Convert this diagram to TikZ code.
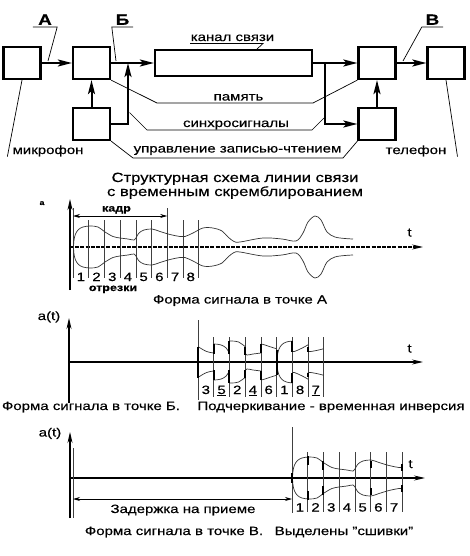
\documentclass[tikz,border=0pt]{standalone}
\usepackage{fontspec}
\setmainfont{Liberation Sans}[FakeStretch=1.25, FakeBold=0.4]
\usetikzlibrary{arrows.meta}

% envelope of the speech signal, y = -amplitude
\newcommand{\envpath}{plot[smooth, tension=0.55] coordinates {(73.5,0) (74,-7) (75.5,-13) (78.5,-17.5) (83,-20) (90,-21) (98,-20) (105,-15) (113,-10.5) (120,-9) (128,-8) (134,-7) (136.5,-10) (139,-14) (144,-17) (152,-18) (160,-15.5) (170,-12.5) (180,-10.5) (185,-10.5) (193,-14) (203,-19) (213,-19) (222,-16) (228,-10) (234,-5.5) (240,-5) (263,-9) (282,-8) (296,-6) (303,-14) (308,-25) (315,-31) (321,-27) (327,-15) (335,-10) (345,-8.5) (353,-8)}}

\tikzset{
  blk/.style={draw, line width=2.2pt, minimum width=37pt, minimum height=32pt, inner sep=0pt},
  flow/.style={-{Stealth[length=14pt, width=7pt, inset=3pt]}, line width=2pt},
  lead/.style={line width=0.7pt},
  lbl/.style={font=\fontsize{12}{14}\selectfont, inner sep=0pt, anchor=base},
  ptlbl/.style={font=\bfseries\fontsize{15}{17}\selectfont, inner xsep=0pt, inner ysep=2pt, anchor=south},
  small/.style={font=\bfseries\fontsize{10}{12}\selectfont, inner sep=0pt, anchor=base},
  num/.style={font=\fontsize{12}{13}\selectfont, inner sep=0pt, anchor=base},
  axis/.style={-{Stealth[length=11pt, width=5pt]}, line width=1.1pt},
  dim/.style={{Stealth[length=7pt, width=4pt]}-{Stealth[length=7pt, width=4pt]}, line width=0.7pt},
  cut/.style={line width=0.6pt, black!75},
  env/.style={line width=0.7pt, black!80},
  stitch/.style={line width=2pt},
}

\begin{document}
\begin{tikzpicture}[x=1pt, y=-1pt]
    \useasboundingbox (0,0) rectangle (469,556);

    % ===== Block diagram =====
    \node[blk] (mic) at (22,63) {};
    \node[blk] (coder) at (91.5,63) {};
    \node[blk] (ctrlT) at (91.5,124) {};
    \node[blk, minimum width=157pt, minimum height=26.5pt] (chan) at (233.5,63) {};
    \node[blk] (decoder) at (377,63) {};
    \node[blk] (ctrlR) at (377,124) {};
    \node[blk] (phone) at (446,63) {};

    \coordinate (jT) at (128,63);
    \coordinate (jR) at (325,63);

    \draw[flow] (mic) -- (coder);
    \draw[flow] (coder) -- (chan);
    \draw[flow] (ctrlT) -- (coder);
    \draw[flow] (ctrlT.east) -| (jT);
    \draw[flow] (chan) -- (decoder);
    \draw[flow] (jR) |- (ctrlR);
    \draw[flow] (ctrlR) -- (decoder);
    \draw[flow] (decoder) -- (phone);

    % points A, B, V
    \node[ptlbl, minimum width=24pt] (labA) at (45,27) {А};
    \node[ptlbl, minimum width=21pt] (labB) at (122.5,27) {Б};
    \node[ptlbl, minimum width=21pt] (labV) at (432.5,27) {В};
    \coordinate (pA) at (48,61);
    \coordinate (pB) at (116,61);
    \coordinate (pV) at (403,61);
    \draw[lead] (labA.south west) -- (labA.south east) -- (pA);
    \draw[lead] (labB.south east) -- (labB.south west) -- (pB);
    \draw[lead] (labV.south east) -- (labV.south west) -- (pV);

    % callouts
    \node[lbl] (labChan) at (232.5,41) {канал связи};
    \coordinate (cnL) at (190,43.5);
    \coordinate (cnR) at (263,43.5);
    \coordinate (cnT) at (256,50);
    \draw[lead] (cnL) -- (cnR) -- (cnT);

    \node[lbl] (labMem) at (238.5,100.5) {память};
    \coordinate (memL) at (157,103);
    \coordinate (memR) at (313,103);
    \draw[lead] (coder.south east) -- (memL) -- (memR) -- (decoder.south west);

    \node[lbl] (labSync) at (236,127) {синхросигналы};
    \coordinate (syT) at (129.5,112.5);
    \coordinate (synL) at (147,130);
    \coordinate (synR) at (312,130);
    \coordinate (syR) at (324,118);
    \draw[lead] (syT) -- (synL) -- (synR) -- (syR);

    \node[lbl] (labCtl) at (237.5,152.5) {управление записью-чтением};
    \coordinate (ctlL) at (133,158);
    \coordinate (ctlR) at (343,158);
    \draw[lead] (ctrlT.south east) -- (ctlL) -- (ctlR) -- (ctrlR.south west);

    \node[lbl, inner xsep=5pt] (labMic) at (48,154) {микрофон};
    \draw[lead] (mic.south) -- (labMic.south west);
    \node[lbl, inner xsep=11pt] (labTel) at (416,154) {телефон};
    \draw[lead] (phone.south) -- (labTel.south east);

    \node[lbl, font=\fontsize{13.3}{15}\selectfont] (title1) at (235,182) {Структурная схема линии связи};
    \node[lbl, font=\fontsize{13.3}{15}\selectfont] (title2) at (235,196) {с временным скремблированием};

    % ===== A: signal at point A =====
    \def\yA{247}
    \draw[axis, dash pattern=on 4pt off 1.2pt] (70,\yA) -- (423,\yA);
    \draw[axis, line width=1.6pt] (70,290) -- (70,199);
    \node[lbl, font=\bfseries\fontsize{7}{8}\selectfont] (aA) at (42,205) {а};
    \node[lbl] (tA) at (409.5,236.5) {t};

    \draw[cut] (73,208) -- (73,278);
    \draw[cut] (167.2,208) -- (167.2,278);
    \foreach \i in {1,2,3,4,5,7,8}
        \draw[cut] (73+\i*15.7,220) -- (73+\i*15.7,278);
    \draw[dim] (73,216) -- (167.2,216);
    \node[small] (frame) at (116.5,211.5) {кадр};

    \begin{scope}[shift={(0,\yA)}]
        \draw[env] \envpath;
        \draw[env, yscale=-1] \envpath;
    \end{scope}

    \foreach \i in {1,...,8}
        \node[num] (nA\i) at (73+\i*15.7-7.85,281) {\i};
    \node[small] (pieces) at (113,291) {отрезки};
    \node[lbl] (capA) at (240,303.5) {Форма сигнала в точке А};

    % ===== B: signal at point B =====
    \def\yB{362}
    \draw[axis] (69,\yB) -- (423,\yB);
    \draw[axis] (69,403) -- (69,318);
    \node[lbl] (atB) at (49,320) {a(t)};
    \node[lbl] (tB) at (409.5,352.5) {t};

    \draw[cut] (198,320) -- (198,400);
    \foreach \i in {1,...,8}
        \draw[cut] (198+\i*15.7,337) -- (198+\i*15.7,397);

    \foreach \pos/\seg/\dir in {0/3/1, 1/5/-1, 2/2/1, 3/4/-1, 4/6/1, 5/1/1, 6/8/1, 7/7/-1} {
        \pgfmathsetmacro{\bx}{198+\pos*15.7}
        \pgfmathsetmacro{\ax}{73+(\seg-1)*15.7}
        \pgfmathsetmacro{\sh}{\bx-(\dir)*\ax+(1-\dir)*7.85}
        \begin{scope}
            \clip (\bx,330) rectangle ++(15.7,64);
            \begin{scope}[xshift=\sh pt, xscale=\dir, shift={(0,\yB)}]
                \draw[env] \envpath;
                \draw[env, yscale=-1] \envpath;
            \end{scope}
        \end{scope}
    }
    \foreach \x/\a/\b in {198/0/15.5, 213.7/8/18, 229.4/8/21, 245.1/15.5/7.5, 260.8/9/18, 276.5/12.5/0, 292.2/21/10.5, 307.9/15/10.5}
        \draw[stitch] (\x,\yB-\a) -- (\x,\yB-\b) (\x,\yB+\a) -- (\x,\yB+\b);

    \foreach \pos/\lab in {0/3, 1/\underline{5}, 2/2, 3/\underline{4}, 4/6, 5/1, 6/8, 7/\underline{7}}
        \node[num] (nB\pos) at (198+\pos*15.7+7.85,394) {\lab};
    \node[lbl] (capB) at (91,410) {Форма сигнала в точке Б.};
    \node[lbl] (noteB) at (331,410) {Подчеркивание - временная инверсия};

    % ===== V: signal at point V =====
    \def\yC{478}
    \draw[axis] (70,\yC) -- (425,\yC);
    \draw[axis] (70,518) -- (70,432);
    \node[lbl] (atC) at (50,436.5) {a(t)};
    \node[lbl] (tC) at (410.5,468) {t};

    \draw[cut] (73,448) -- (73,518);
    \draw[cut] (292,427) -- (292,513);
    \foreach \i in {1,...,7}
        \draw[cut] (292+\i*15.7,452) -- (292+\i*15.7,512);
    \begin{scope}
        \clip (292,440) rectangle (401.9,516);
        \begin{scope}[xshift=219pt, shift={(0,\yC)}]
            \draw[env] \envpath;
            \draw[env, yscale=-1] \envpath;
        \end{scope}
    \end{scope}
    \draw[stitch] (292,\yC-5) -- (292,\yC+5);
    \foreach \x/\a/\b in {307.7/22/13, 323.4/17/8, 370.5/17/10, 401.9/14/7}
        \draw[stitch] (\x,\yC-\a) -- (\x,\yC-\b) (\x,\yC+\a) -- (\x,\yC+\b);

    \draw[dim] (73,499) -- (292,499);
    \node[lbl] (delay) at (183,513) {Задержка на приеме};
    \foreach \i in {1,...,7}
        \node[num] (nC\i) at (292+\i*15.7-7.85,511.5) {\i};
    \node[lbl] (capC) at (174,535) {Форма сигнала в точке В.};
    \node[lbl] (noteC) at (344,535) {Выделены "сшивки"};
\end{tikzpicture}
\end{document}
